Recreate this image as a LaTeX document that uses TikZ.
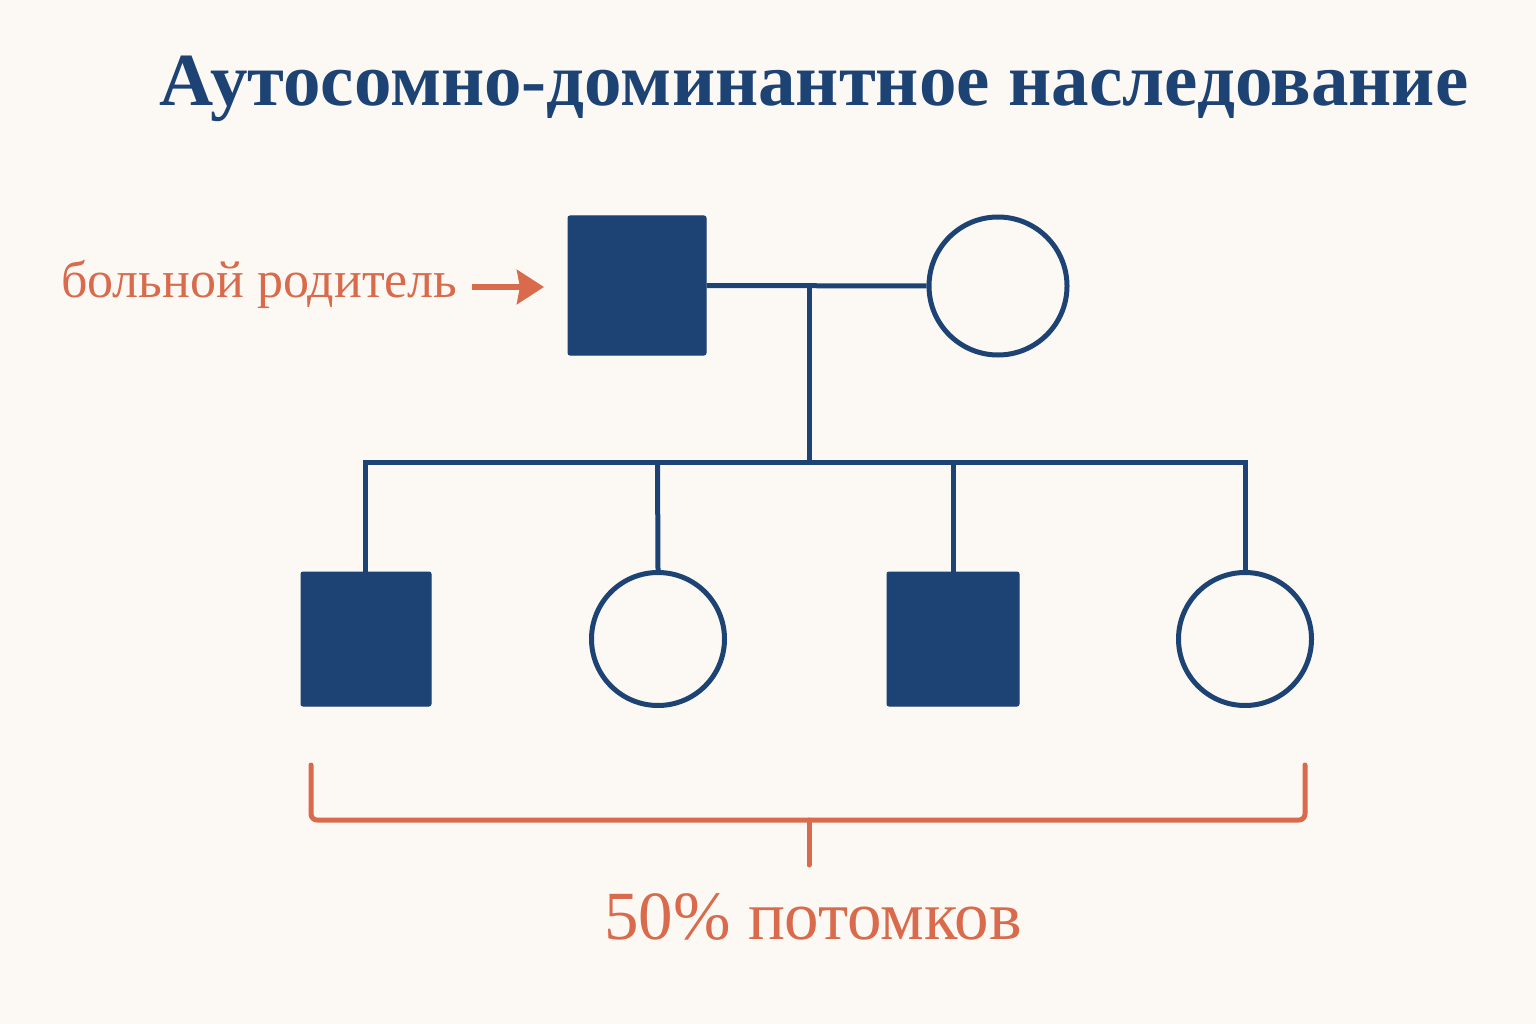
\documentclass[tikz,border=0pt]{standalone}
\usepackage{fontspec}
\setmainfont{Liberation Serif}
\usetikzlibrary{arrows.meta}
\definecolor{bgc}{HTML}{FCF9F4}
\definecolor{navy}{HTML}{1D4375}
\definecolor{coral}{HTML}{D96A4C}
\tikzset{
  affected/.style={fill=navy, draw=navy, line width=1pt, rounded corners=2pt, inner sep=0pt},
  unaffected/.style={circle, draw=navy, line width=5pt, fill=bgc, inner sep=0pt},
  pline/.style={draw=navy, line width=5pt, line join=miter},
  bline/.style={draw=coral, line width=5pt, line cap=round, line join=round},
}
\begin{document}
\begin{tikzpicture}[x=1pt,y=-1pt]
\fill[bgc] (0,0) rectangle (1536,1024);
\useasboundingbox (0,0) rectangle (1536,1024);
% title
\node[text=navy, font=\fontsize{75}{80}\selectfont\bfseries] (title) at (814,89) {Аутосомно-доминантное наследование};
% parents
\node[affected, minimum width=138pt, minimum height=139pt] (father) at (637,285.5) {};
\node[unaffected, minimum size=138pt] (mother) at (998,286) {};
\coordinate (mid) at (809,285.5);
\coordinate (sib) at (809,462.5);
\draw[pline] (father.east) -- (mother.west);
\draw[pline] (mid) -- (sib);
% children
\node[affected, minimum width=130pt, minimum height=134pt] (c1) at (366,639) {};
\node[unaffected, minimum size=133pt] (c2) at (658,639) {};
\node[affected, minimum width=132pt, minimum height=134pt] (c3) at (953,639) {};
\node[unaffected, minimum size=133pt] (c4) at (1245,639) {};
\coordinate (s1) at (365.5,462.5);
\coordinate (s2) at (657.5,462.5);
\coordinate (s3) at (953,462.5);
\coordinate (s4) at (1245,462.5);
\draw[pline] (s1 |- c1.north) -- (s1) -- (s4) -- (c4.north);
\draw[pline] (s2) -- (c2.north);
\draw[pline] (s3) -- (s3 |- c3.north);
% label
\node[text=coral, font=\fontsize{52}{56}\selectfont, anchor=east] (lab) at (461,284) {больной родитель};
\coordinate (arrowstart) at (472,287);
\coordinate (arrowend) at (544,287);
\draw[coral, line width=6pt, -{Stealth[length=27pt,width=34pt,inset=3pt]}] (arrowstart) -- (arrowend);
% bracket
\coordinate (bl) at (311,765);
\coordinate (br) at (1305,765);
\coordinate (bm) at (809,820);
\coordinate (bt) at (809,865);
\draw[bline, rounded corners=6pt] (bl) -- (311,820) -- (1305,820) -- (br);
\draw[bline] (bm) -- (bt);
\node[text=coral, font=\fontsize{69}{72}\selectfont] (pct) at (813,917) {50\% потомков};
\end{tikzpicture}
\end{document}
